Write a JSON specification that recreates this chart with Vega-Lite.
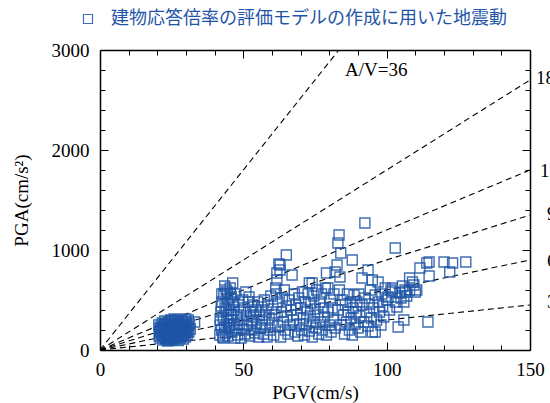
{
  "$schema": "https://vega.github.io/schema/vega-lite/v6.json",
  "autosize": {"type": "none"},
  "padding": {"left": 100, "top": 50, "right": 20, "bottom": 53},
  "width": 430,
  "height": 300,
  "config": {
    "view": {"stroke": null},
    "axis": {
      "grid": false,
      "labelFlush": false,
      "domainColor": "black",
      "domainWidth": 1.5,
      "tickColor": "black",
      "tickWidth": 1,
      "labelFont": "Liberation Serif",
      "labelFontSize": 19,
      "labelColor": "black",
      "titleFont": "Liberation Serif",
      "titleFontSize": 19,
      "titleFontWeight": "normal",
      "titleColor": "black"
    }
  },
  "datasets": {
    "pts": [
      {"PGV":20.5,"PGA":250},{"PGV":20.8,"PGA":180},{"PGV":21,"PGA":120},{"PGV":21.2,"PGA":210},{"PGV":21.5,"PGA":150},{"PGV":21.7,"PGA":270},{"PGV":21.9,"PGA":100},{"PGV":22.1,"PGA":230},{"PGV":22.3,"PGA":170},{"PGV":22.5,"PGA":130},{"PGV":22.6,"PGA":290},{"PGV":22.8,"PGA":200},{"PGV":23,"PGA":110},{"PGV":23.1,"PGA":250},{"PGV":23.3,"PGA":160},{"PGV":23.5,"PGA":220},{"PGV":23.6,"PGA":90},{"PGV":23.8,"PGA":280},{"PGV":24,"PGA":140},{"PGV":24.1,"PGA":190},{"PGV":24.3,"PGA":240},{"PGV":24.5,"PGA":120},{"PGV":24.6,"PGA":300},{"PGV":24.8,"PGA":170},{"PGV":25,"PGA":210},{"PGV":25.1,"PGA":100},{"PGV":25.3,"PGA":260},{"PGV":25.5,"PGA":150},{"PGV":25.6,"PGA":230},{"PGV":25.8,"PGA":130},{"PGV":26,"PGA":190},{"PGV":26.1,"PGA":280},{"PGV":26.3,"PGA":110},{"PGV":26.5,"PGA":220},{"PGV":26.6,"PGA":160},{"PGV":26.8,"PGA":250},{"PGV":27,"PGA":140},{"PGV":27.1,"PGA":200},{"PGV":27.3,"PGA":95},{"PGV":27.5,"PGA":270},{"PGV":27.6,"PGA":180},{"PGV":27.8,"PGA":230},{"PGV":28,"PGA":120},{"PGV":28.1,"PGA":210},{"PGV":28.3,"PGA":160},{"PGV":28.5,"PGA":290},{"PGV":28.6,"PGA":140},{"PGV":28.8,"PGA":240},{"PGV":29,"PGA":190},{"PGV":29.1,"PGA":110},{"PGV":29.3,"PGA":260},{"PGV":29.5,"PGA":170},{"PGV":29.6,"PGA":220},{"PGV":29.8,"PGA":130},{"PGV":30,"PGA":280},{"PGV":30.2,"PGA":200},{"PGV":30.4,"PGA":150},{"PGV":30.6,"PGA":240},{"PGV":30.8,"PGA":300},{"PGV":31,"PGA":180},{"PGV":31.2,"PGA":260},{"PGV":33,"PGA":280},{"PGV":31.5,"PGA":210},{"PGV":22,"PGA":200},{"PGV":23,"PGA":180},{"PGV":24,"PGA":230},{"PGV":25,"PGA":180},{"PGV":26,"PGA":140},{"PGV":27,"PGA":230},{"PGV":28,"PGA":190},{"PGV":21,"PGA":190},{"PGV":22,"PGA":150},{"PGV":23,"PGA":260},{"PGV":24,"PGA":100},{"PGV":25,"PGA":290},{"PGV":26,"PGA":250},{"PGV":27,"PGA":170},{"PGV":28,"PGA":250},{"PGV":29,"PGA":150},{"PGV":30,"PGA":230},{"PGV":21.3,"PGA":230},{"PGV":22.4,"PGA":260},{"PGV":23.4,"PGA":130},{"PGV":24.4,"PGA":210},{"PGV":25.4,"PGA":120},{"PGV":26.4,"PGA":190},{"PGV":27.4,"PGA":150},{"PGV":28.4,"PGA":200},{"PGV":29.4,"PGA":240},{"PGV":30.4,"PGA":180},{"PGV":20.6,"PGA":140},{"PGV":20.9,"PGA":220},{"PGV":26.9,"PGA":300},{"PGV":25.9,"PGA":310},{"PGV":29.9,"PGA":310},{"PGV":28.9,"PGA":280},
      {"PGV":41.8,"PGA":150},{"PGV":42,"PGA":250},{"PGV":42.2,"PGA":380},{"PGV":42.4,"PGA":200},{"PGV":42.6,"PGA":480},{"PGV":42.8,"PGA":130},{"PGV":43,"PGA":320},{"PGV":43.2,"PGA":560},{"PGV":43.4,"PGA":230},{"PGV":43.6,"PGA":420},{"PGV":43.8,"PGA":170},{"PGV":44,"PGA":600},{"PGV":44.2,"PGA":290},{"PGV":44.4,"PGA":510},{"PGV":44.6,"PGA":140},{"PGV":44.8,"PGA":360},{"PGV":45,"PGA":450},{"PGV":45.2,"PGA":220},{"PGV":45.4,"PGA":620},{"PGV":45.6,"PGA":300},{"PGV":45.8,"PGA":530},{"PGV":46,"PGA":180},{"PGV":46.3,"PGA":670},{"PGV":46.5,"PGA":400},{"PGV":46.8,"PGA":260},{"PGV":47,"PGA":120},{"PGV":42.5,"PGA":560},{"PGV":43.5,"PGA":640},{"PGV":44.5,"PGA":580},{"PGV":45.5,"PGA":560},{"PGV":41.9,"PGA":300},{"PGV":42.3,"PGA":440},{"PGV":43.1,"PGA":120},{"PGV":44.1,"PGA":400},{"PGV":44.9,"PGA":250},{"PGV":45.9,"PGA":350},{"PGV":46.6,"PGA":480},{"PGV":47,"PGA":560},
      {"PGV":47.5,"PGA":200},{"PGV":47.8,"PGA":330},{"PGV":48,"PGA":150},{"PGV":48.3,"PGA":450},{"PGV":48.6,"PGA":260},{"PGV":49,"PGA":380},{"PGV":49.2,"PGA":120},{"PGV":49.5,"PGA":300},{"PGV":49.8,"PGA":500},{"PGV":50,"PGA":210},{"PGV":50.3,"PGA":420},{"PGV":50.6,"PGA":160},{"PGV":50.9,"PGA":580},{"PGV":51.2,"PGA":340},{"PGV":51.5,"PGA":250},{"PGV":51.8,"PGA":480},{"PGV":52,"PGA":530},{"PGV":52.2,"PGA":140},{"PGV":52.5,"PGA":380},{"PGV":52.8,"PGA":290},{"PGV":53,"PGA":200},{"PGV":53.3,"PGA":450},{"PGV":53.6,"PGA":330},{"PGV":54,"PGA":170},{"PGV":54.3,"PGA":400},{"PGV":54.6,"PGA":260},{"PGV":55,"PGA":480},{"PGV":55.3,"PGA":130},{"PGV":55.6,"PGA":350},
      {"PGV":56,"PGA":220},{"PGV":56.3,"PGA":430},{"PGV":56.6,"PGA":300},{"PGV":57,"PGA":160},{"PGV":57.3,"PGA":500},{"PGV":57.6,"PGA":250},{"PGV":58,"PGA":380},{"PGV":58.3,"PGA":130},{"PGV":58.6,"PGA":450},{"PGV":59,"PGA":320},{"PGV":59.3,"PGA":200},{"PGV":59.6,"PGA":540},{"PGV":60,"PGA":270},{"PGV":60.3,"PGA":410},{"PGV":60.6,"PGA":150},{"PGV":61,"PGA":350},{"PGV":61.3,"PGA":620},{"PGV":61.7,"PGA":700},{"PGV":61.7,"PGA":770},{"PGV":62,"PGA":480},{"PGV":62.4,"PGA":860},{"PGV":62.8,"PGA":800},{"PGV":62.8,"PGA":850},{"PGV":62,"PGA":240},{"PGV":61.5,"PGA":560},
      {"PGV":63,"PGA":130},{"PGV":63.3,"PGA":380},{"PGV":63.6,"PGA":520},{"PGV":64,"PGA":280},{"PGV":64.3,"PGA":600},{"PGV":64.6,"PGA":200},{"PGV":65,"PGA":950},{"PGV":65,"PGA":440},{"PGV":65.3,"PGA":330},{"PGV":65.6,"PGA":160},{"PGV":66,"PGA":500},{"PGV":66.3,"PGA":250},{"PGV":66.6,"PGA":400},{"PGV":67,"PGA":750},{"PGV":67.4,"PGA":300},{"PGV":67.8,"PGA":560},{"PGV":68,"PGA":180},{"PGV":68.3,"PGA":450},{"PGV":68.6,"PGA":350},{"PGV":69,"PGA":140},{"PGV":69.3,"PGA":520},{"PGV":69.6,"PGA":260},{"PGV":70,"PGA":420},
      {"PGV":70.3,"PGA":200},{"PGV":70.6,"PGA":580},{"PGV":71,"PGA":320},{"PGV":71.3,"PGA":150},{"PGV":71.6,"PGA":480},{"PGV":72,"PGA":260},{"PGV":72.3,"PGA":400},{"PGV":72.6,"PGA":560},{"PGV":73,"PGA":670},{"PGV":73,"PGA":190},{"PGV":73.3,"PGA":340},{"PGV":73.6,"PGA":470},{"PGV":74,"PGA":670},{"PGV":74,"PGA":130},{"PGV":74.3,"PGA":280},{"PGV":74.6,"PGA":540},{"PGV":75,"PGA":410},{"PGV":75.3,"PGA":220},{"PGV":75.6,"PGA":600},{"PGV":76,"PGA":350},{"PGV":76.3,"PGA":160},{"PGV":76.6,"PGA":480},{"PGV":77,"PGA":280},{"PGV":77.3,"PGA":560},{"PGV":77.6,"PGA":200},{"PGV":78,"PGA":420},{"PGV":78.3,"PGA":330},{"PGV":78.6,"PGA":620},{"PGV":79,"PGA":770},{"PGV":79,"PGA":150},{"PGV":79.5,"PGA":620},{"PGV":79.5,"PGA":380},{"PGV":80,"PGA":250},
      {"PGV":80.3,"PGA":500},{"PGV":80.6,"PGA":180},{"PGV":81,"PGA":420},{"PGV":81.3,"PGA":300},{"PGV":81.6,"PGA":560},{"PGV":82,"PGA":780},{"PGV":82,"PGA":220},{"PGV":82.7,"PGA":850},{"PGV":83,"PGA":1070},{"PGV":83.4,"PGA":1150},{"PGV":83.7,"PGA":730},{"PGV":84,"PGA":970},{"PGV":83,"PGA":400},{"PGV":83.5,"PGA":600},{"PGV":84,"PGA":250},{"PGV":84.5,"PGA":500},{"PGV":85,"PGA":350},{"PGV":85.3,"PGA":160},{"PGV":85.6,"PGA":450},{"PGV":86,"PGA":280},{"PGV":86.3,"PGA":560},{"PGV":86.6,"PGA":380},{"PGV":87,"PGA":200},{"PGV":87.3,"PGA":480},{"PGV":87.6,"PGA":320},{"PGV":88,"PGA":900},{"PGV":88,"PGA":150},{"PGV":88.3,"PGA":420},{"PGV":88.6,"PGA":550},{"PGV":89,"PGA":260},{"PGV":89.3,"PGA":380},{"PGV":89.6,"PGA":480},{"PGV":90,"PGA":220},
      {"PGV":90.3,"PGA":560},{"PGV":90.6,"PGA":340},{"PGV":91,"PGA":180},{"PGV":91.4,"PGA":720},{"PGV":91.4,"PGA":450},{"PGV":92,"PGA":280},{"PGV":92.4,"PGA":1270},{"PGV":92.4,"PGA":520},{"PGV":93,"PGA":380},{"PGV":93.5,"PGA":800},{"PGV":93.5,"PGA":240},{"PGV":94,"PGA":460},{"PGV":94.3,"PGA":600},{"PGV":94.6,"PGA":320},{"PGV":95,"PGA":700},{"PGV":95,"PGA":180},{"PGV":95.5,"PGA":420},{"PGV":96,"PGA":550},{"PGV":96,"PGA":180},{"PGV":96.5,"PGA":300},{"PGV":97,"PGA":680},{"PGV":97,"PGA":480},{"PGV":97.5,"PGA":380},{"PGV":98,"PGA":250},{"PGV":98.3,"PGA":560},{"PGV":98.6,"PGA":440},{"PGV":99,"PGA":330},{"PGV":99.5,"PGA":620},{"PGV":100,"PGA":500},{"PGV":100.5,"PGA":530},
      {"PGV":101,"PGA":400},{"PGV":101.5,"PGA":600},{"PGV":102,"PGA":580},{"PGV":102,"PGA":620},{"PGV":103,"PGA":1020},{"PGV":103,"PGA":480},{"PGV":103.6,"PGA":430},{"PGV":104,"PGA":230},{"PGV":104.6,"PGA":570},{"PGV":105,"PGA":520},{"PGV":105.5,"PGA":640},{"PGV":106,"PGA":480},{"PGV":106.5,"PGA":580},{"PGV":107,"PGA":540},{"PGV":108,"PGA":720},{"PGV":108,"PGA":600},{"PGV":109,"PGA":680},{"PGV":110.5,"PGA":600},{"PGV":109.5,"PGA":650},{"PGV":106,"PGA":300},{"PGV":110,"PGA":580},{"PGV":106.4,"PGA":600},
      {"PGV":111.6,"PGA":820},{"PGV":114,"PGA":870},{"PGV":114.8,"PGA":880},{"PGV":114.8,"PGA":740},{"PGV":114.4,"PGA":280},{"PGV":120,"PGA":880},{"PGV":122,"PGA":780},{"PGV":123,"PGA":870},{"PGV":127.6,"PGA":880}
    ],
    "lines": [
      {"ratio":"36","PGV":0,"PGA":0},{"ratio":"36","PGV":83.33,"PGA":3000},
      {"ratio":"18","PGV":0,"PGA":0},{"ratio":"18","PGV":150,"PGA":2700},
      {"ratio":"12","PGV":0,"PGA":0},{"ratio":"12","PGV":150,"PGA":1800},
      {"ratio":"9","PGV":0,"PGA":0},{"ratio":"9","PGV":150,"PGA":1350},
      {"ratio":"6","PGV":0,"PGA":0},{"ratio":"6","PGV":150,"PGA":900},
      {"ratio":"3","PGV":0,"PGA":0},{"ratio":"3","PGV":150,"PGA":450}
    ],
    "labels": [
      {"label":"A/V=36","PGV":85.5,"PGA":2800},
      {"label":"18","PGV":152.1,"PGA":2720},
      {"label":"12","PGV":153.5,"PGA":1790},
      {"label":"9","PGV":155.9,"PGA":1360},
      {"label":"6","PGV":155.9,"PGA":890},
      {"label":"3","PGV":155.9,"PGA":480}
    ]
  },
  "layer": [
    {
      "data": {"name": "lines"},
      "mark": {"type": "line", "color": "black", "strokeWidth": 1.1, "strokeDash": [6, 4], "clip": true},
      "encoding": {
        "x": {"field": "PGV", "type": "quantitative", "scale": {"domain": [0, 150], "nice": false, "zero": false},
          "axis": {"orient": "top", "labels": false, "title": null, "values": [0,10,20,30,40,50,60,70,80,90,100,110,120,130,140,150],
            "tickSize": {"condition": {"test": "datum.value % 50 === 0", "value": -8}, "value": -5}}},
        "y": {"field": "PGA", "type": "quantitative", "scale": {"domain": [0, 3000], "nice": false, "zero": false},
          "axis": {"orient": "right", "labels": false, "title": null, "values": [0,200,400,600,800,1000,1200,1400,1600,1800,2000,2200,2400,2600,2800,3000],
            "tickSize": {"condition": {"test": "datum.value % 1000 === 0", "value": -8}, "value": -5}}},
        "detail": {"field": "ratio"}
      }
    },
    {
      "data": {"name": "pts"},
      "mark": {"type": "point", "shape": "square", "size": 100, "strokeWidth": 1.4, "opacity": 0.85, "filled": false},
      "encoding": {
        "x": {"field": "PGV", "type": "quantitative", "scale": {"domain": [0, 150], "nice": false, "zero": false},
          "axis": {"orient": "bottom", "title": "PGV(cm/s)", "values": [0,10,20,30,40,50,60,70,80,90,100,110,120,130,140,150],
            "labelExpr": "datum.value % 50 === 0 ? datum.label : ''", "labelPadding": 18, "titlePadding": 4,
            "tickSize": {"condition": {"test": "datum.value % 50 === 0", "value": -8}, "value": -5}}},
        "y": {"field": "PGA", "type": "quantitative", "scale": {"domain": [0, 3000], "nice": false, "zero": false},
          "axis": {"orient": "left", "title": "PGA(cm/s²)", "format": "d", "values": [0,200,400,600,800,1000,1200,1400,1600,1800,2000,2200,2400,2600,2800,3000],
            "labelExpr": "datum.value % 1000 === 0 ? datum.label : ''", "labelPadding": 19, "titlePadding": 20,
            "tickSize": {"condition": {"test": "datum.value % 1000 === 0", "value": -8}, "value": -5}}},
        "color": {"datum": "建物応答倍率の評価モデルの作成に用いた地震動", "type": "nominal",
          "scale": {"range": ["#1f55a8"]},
          "legend": {"orient": "none", "legendX": -21, "legendY": -40, "title": null, "padding": 0,
            "labelFont": "Noto Sans CJK JP", "labelFontSize": 18, "labelColor": "#1f55a8", "labelLimit": 600, "labelOffset": 14,
            "symbolType": "square", "symbolSize": 81, "symbolStrokeWidth": 1.2, "symbolStrokeColor": "#1f55a8", "symbolFillColor": "transparent"}}
      }
    },
    {
      "data": {"name": "labels"},
      "mark": {"type": "text", "align": "left", "baseline": "middle", "font": "Liberation Serif", "fontSize": 19, "color": "black"},
      "encoding": {
        "x": {"field": "PGV", "type": "quantitative", "axis": null, "scale": {"domain": [0, 150], "nice": false, "zero": false}},
        "y": {"field": "PGA", "type": "quantitative", "axis": null, "scale": {"domain": [0, 3000], "nice": false, "zero": false}},
        "text": {"field": "label"}
      }
    }
  ],
  "resolve": {"axis": {"x": "independent", "y": "independent"}}
}
